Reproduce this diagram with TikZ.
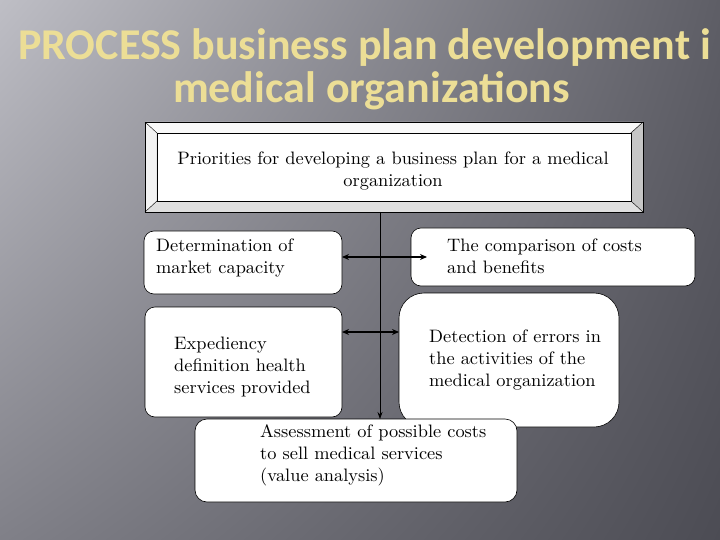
\documentclass[tikz,border=0pt]{standalone}
\usepackage{fontspec}
\newfontfamily\titlefont{Carlito}
\newfontfamily\bodyfont{lmroman10-regular.otf}[FakeStretch=1.02]
\usetikzlibrary{arrows.meta,positioning,shadings}

\definecolor{bgUL}{RGB}{190,190,197}
\definecolor{bgUR}{RGB}{94,94,102}
\definecolor{bgLL}{RGB}{128,128,136}
\definecolor{bgLR}{RGB}{76,76,84}
\definecolor{titleYellow}{RGB}{236,222,150}

\tikzset{
  title/.style={font=\titlefont\bfseries\fontsize{44}{48}\selectfont, text=titleYellow, inner sep=0pt},
  panel/.style={draw=black, fill=white, rounded corners=#1, line width=0.6pt, outer sep=0pt},
  panel/.default=10pt,
  lbl/.style={font=\bodyfont\fontsize{18}{22}\selectfont, inner sep=0pt, anchor=north west, align=left},
  dbl/.style={{Stealth[length=7pt,width=6pt]}-{Stealth[length=7pt,width=6pt]}, line width=1.3pt},
  arr/.style={-{Stealth[length=7pt,width=5pt]}, line width=0.7pt},
}

\begin{document}
\begin{tikzpicture}[x=1pt, y=-1pt]
    \clip (0,0) rectangle (720,540);
    \shade[upper left=bgUL, upper right=bgUR, lower left=bgLL, lower right=bgLR] (0,0) rectangle (720,540);

    % title
    \node(t1) [title, anchor=base west] at (18,60)   {PROCESS business plan development i};
    \node(t2) [title, anchor=base]      at (371.5,103) {medical organizations};

    % priorities (bevelled box)
    \node(prioOuter) [draw, fill=gray!20, minimum width=498pt, minimum height=90pt, outer sep=0pt] at (394,167) {};
    \fill[gray!5]  (prioOuter.north west) -- (prioOuter.north east) -- (393+237,133) -- (393-237,133) -- cycle;
    \fill[gray!10] (prioOuter.north west) -- (prioOuter.south west) -- (393-237,201) -- (393-237,133) -- cycle;
    \fill[gray!25] (prioOuter.south west) -- (prioOuter.south east) -- (393+237,201) -- (393-237,201) -- cycle;
    \fill[gray!45] (prioOuter.north east) -- (prioOuter.south east) -- (393+237,201) -- (393+237,133) -- cycle;
    \node(prio) [draw, fill=white, minimum width=474pt, minimum height=68pt, outer sep=0pt] at (394,167) {};
    \draw (prioOuter.north west) -- (prio.north west);
    \draw (prioOuter.north east) -- (prio.north east);
    \draw (prioOuter.south west) -- (prio.south west);
    \draw (prioOuter.south east) -- (prio.south east);
    \draw (prioOuter.north west) rectangle (prioOuter.south east);
    \node(prioT) [lbl, anchor=north, align=center] at (393,152)
        {Priorities for developing a business plan for a medical\\organization};

    % left column
    \node(det) [panel, minimum width=198pt, minimum height=63pt] at (243,262.5) {};
    \node(exp) [panel, minimum width=197pt, minimum height=110pt] at (243.5,362) {};

    % right column
    \node(cmp)  [panel, minimum width=284pt, minimum height=58pt] at (553,257) {};
    \node(errs) [panel=25pt, minimum width=220pt, minimum height=134pt] at (509,360) {};

    % bottom
    \node(asses) [panel=12pt, minimum width=322pt, minimum height=83pt] at (356,460.5) {};

    % texts
    \node(detT)   [lbl] at (156,239) {Determination of\\market capacity};
    \node(cmpT)   [lbl] at (447,239) {The comparison of costs\\and benefits};
    \node(expT)   [lbl] at (174,337) {Expediency\\definition health\\services provided};
    \node(errsT)  [lbl] at (429,330) {Detection of errors in\\the activities of the\\medical organization};
    \node(assesT) [lbl] at (260,424) {Assessment of possible costs\\to sell medical services\\(value analysis)};

    %%%%% Edges %%%%%
    \draw[arr] ([xshift=-14pt]prioOuter.south) to ([xshift=-14pt]prioOuter.south |- asses.north);
    \draw[dbl] (det.east |- cmp.west) to ([xshift=16pt]cmp.west);
    \draw[dbl] ([yshift=30pt]exp.east) to ([yshift=30pt]exp.east -| errs.west);

  \end{tikzpicture}
\end{document}
